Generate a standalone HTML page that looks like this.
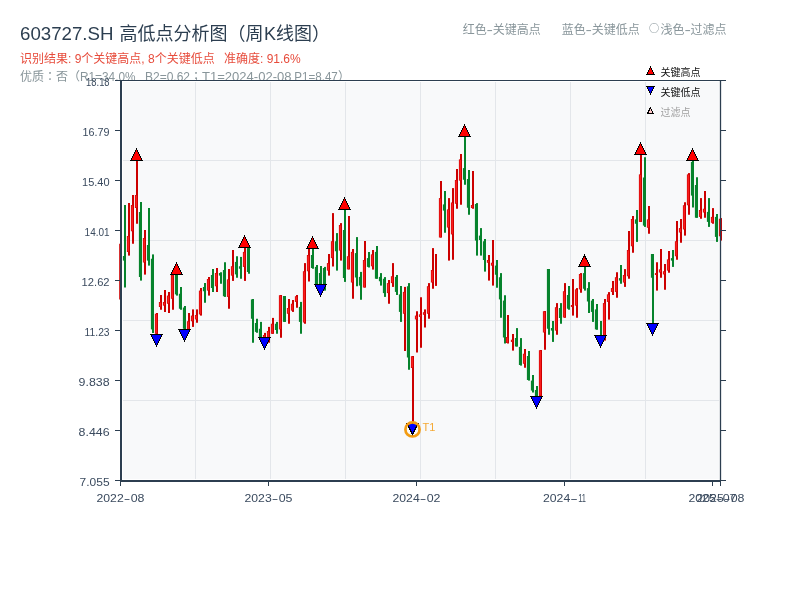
<!DOCTYPE html>
<html lang="zh-CN"><head><meta charset="utf-8"><title>603727.SH 高低点分析图</title>
<style>html,body{margin:0;padding:0;background:#fff;}body{width:800px;height:600px;overflow:hidden;}svg{display:block;will-change:transform;}text{font-family:"Liberation Sans", "Noto Sans CJK SC", sans-serif;}</style></head><body>
<svg width="800" height="600" viewBox="0 0 800 600">
<rect width="800" height="600" fill="#fff"/>
<g fill="#2c3e50" font-size="18">
<text x="20" y="40" textLength="93.5" lengthAdjust="spacingAndGlyphs">603727.SH</text>
<text x="119.4" y="40">高低点分析图（周</text>
<text x="264" y="40">K</text>
<text x="276" y="40">线图）</text>
</g>
<g font-size="12" fill="#e74c3c">
<text x="20" y="63">识别结果: 9个关键高点, 8个关键低点</text>
<text x="224" y="63">准确度: 91.6%</text>
</g>
<g font-size="12" fill="#88959a">
<text x="20" y="81">优质</text>
<text x="44" y="81" style="font-family:'Liberation Sans','Noto Sans CJK JP',sans-serif">：</text>
<text x="56" y="81">否（</text>
<text x="80" y="81" textLength="55.5" lengthAdjust="spacingAndGlyphs">R1=34.0%</text>
<text x="145" y="81">B2=0.62</text>
<text x="190" y="81" style="font-family:'Liberation Sans','Noto Sans CJK JP',sans-serif">；</text>
<text x="202" y="81" textLength="89.5" lengthAdjust="spacingAndGlyphs">T1=2024-02-08</text>
<text x="294.3" y="81" textLength="43.5" lengthAdjust="spacingAndGlyphs">P1=8.47</text>
<text x="338" y="81">）</text>
</g>
<g font-size="12" fill="#88959a">
<text x="462.7" y="33.6">红色</text>
<text x="486.5" y="33.6" textLength="6.4" lengthAdjust="spacingAndGlyphs">-</text>
<text x="492.7" y="33.6">关键高点</text>
<text x="561.7" y="33.6">蓝色</text>
<text x="585.5" y="33.6" textLength="6.4" lengthAdjust="spacingAndGlyphs">-</text>
<text x="591.7" y="33.6">关键低点</text>
<text x="649" y="32.3" font-size="10.2" style="font-family:'Noto Sans CJK SC',sans-serif">○</text>
<text x="660.6" y="33.6">浅色</text>
<text x="684.4" y="33.6" textLength="6.4" lengthAdjust="spacingAndGlyphs">-</text>
<text x="690.6" y="33.6">过滤点</text>
</g>
<rect x="120" y="80" width="601" height="401" fill="#fff"/>
<rect x="123" y="82" width="596" height="397" fill="#f8f9fa"/>
<g stroke="#e3e6ea" stroke-width="1" shape-rendering="crispEdges">
<line x1="195.5" y1="82" x2="195.5" y2="479"/>
<line x1="270.5" y1="82" x2="270.5" y2="479"/>
<line x1="345.5" y1="82" x2="345.5" y2="479"/>
<line x1="420.5" y1="82" x2="420.5" y2="479"/>
<line x1="495.5" y1="82" x2="495.5" y2="479"/>
<line x1="570.5" y1="82" x2="570.5" y2="479"/>
<line x1="645.5" y1="82" x2="645.5" y2="479"/>
<line x1="123" y1="160.5" x2="719" y2="160.5"/>
<line x1="123" y1="240.5" x2="719" y2="240.5"/>
<line x1="123" y1="320.5" x2="719" y2="320.5"/>
<line x1="123" y1="400.5" x2="719" y2="400.5"/>
</g>
<g id="candles">
<rect x="119.2" y="243.75" width="2" height="55.75" fill="#cc0000"/>
<rect x="124" y="205" width="2" height="82.5" fill="#06832c"/>
<rect x="122.9" y="256" width="2.6" height="4.6" fill="#06832c"/>
<rect x="128" y="203" width="2" height="52.6" fill="#cc0000"/>
<rect x="126.9" y="236" width="2.6" height="16" fill="#cc0000"/>
<rect x="127.5" y="236.5" width="1.4" height="15" fill="#ff2020"/>
<rect x="132" y="195" width="2" height="48.75" fill="#cc0000"/>
<rect x="130.9" y="205" width="2.6" height="26.25" fill="#cc0000"/>
<rect x="131.5" y="205.5" width="1.4" height="25.25" fill="#ff2020"/>
<rect x="136" y="160.5" width="2" height="63.25" fill="#cc0000"/>
<rect x="134.9" y="195" width="2.6" height="13" fill="#cc0000"/>
<rect x="135.5" y="195.5" width="1.4" height="12" fill="#ff2020"/>
<rect x="140" y="202" width="2" height="78.6" fill="#06832c"/>
<rect x="138.9" y="212" width="2.6" height="65" fill="#06832c"/>
<rect x="144" y="230" width="2" height="44.6" fill="#cc0000"/>
<rect x="142.9" y="238" width="2.6" height="24.5" fill="#cc0000"/>
<rect x="143.5" y="238.5" width="1.4" height="23.5" fill="#ff2020"/>
<rect x="148" y="208" width="2" height="57.6" fill="#06832c"/>
<rect x="146.9" y="245" width="2.6" height="15.6" fill="#06832c"/>
<rect x="152" y="254.4" width="2" height="78.6" fill="#06832c"/>
<rect x="150.9" y="258.75" width="2.6" height="70.65" fill="#06832c"/>
<rect x="156" y="313" width="2" height="21.4" fill="#cc0000"/>
<rect x="154.9" y="313.75" width="2.6" height="20" fill="#cc0000"/>
<rect x="155.5" y="314.25" width="1.4" height="19" fill="#ff2020"/>
<rect x="160" y="295" width="2" height="14.75" fill="#cc0000"/>
<rect x="158.9" y="302" width="2.6" height="5" fill="#cc0000"/>
<rect x="159.5" y="302.5" width="1.4" height="4" fill="#ff2020"/>
<rect x="164" y="290" width="2" height="22" fill="#cc0000"/>
<rect x="162.9" y="302" width="2.6" height="3.6" fill="#cc0000"/>
<rect x="163.5" y="302.5" width="1.4" height="2.6" fill="#ff2020"/>
<rect x="168" y="292" width="2" height="21" fill="#cc0000"/>
<rect x="166.9" y="295.6" width="2.6" height="8.15" fill="#cc0000"/>
<rect x="167.5" y="296.1" width="1.4" height="7.15" fill="#ff2020"/>
<rect x="172" y="274.5" width="2" height="35.25" fill="#cc0000"/>
<rect x="170.9" y="275" width="2.6" height="23.75" fill="#cc0000"/>
<rect x="171.5" y="275.5" width="1.4" height="22.75" fill="#ff2020"/>
<rect x="176" y="275" width="2" height="20.6" fill="#06832c"/>
<rect x="174.9" y="275" width="2.6" height="19.4" fill="#06832c"/>
<rect x="180" y="287" width="2" height="22.75" fill="#06832c"/>
<rect x="178.9" y="293.75" width="2.6" height="15" fill="#06832c"/>
<rect x="184" y="306" width="2" height="23.4" fill="#06832c"/>
<rect x="182.9" y="307.5" width="2.6" height="21.25" fill="#06832c"/>
<rect x="188" y="313" width="2" height="16.4" fill="#cc0000"/>
<rect x="186.9" y="321.25" width="2.6" height="8.15" fill="#cc0000"/>
<rect x="187.5" y="321.75" width="1.4" height="7.15" fill="#ff2020"/>
<rect x="192" y="309.4" width="2" height="17.5" fill="#cc0000"/>
<rect x="190.9" y="315.6" width="2.6" height="5.65" fill="#cc0000"/>
<rect x="191.5" y="316.1" width="1.4" height="4.65" fill="#ff2020"/>
<rect x="196" y="309.4" width="2" height="13.35" fill="#cc0000"/>
<rect x="194.9" y="315" width="2.6" height="4.4" fill="#cc0000"/>
<rect x="195.5" y="315.5" width="1.4" height="3.4" fill="#ff2020"/>
<rect x="200" y="288" width="2" height="27.6" fill="#cc0000"/>
<rect x="198.9" y="290.6" width="2.6" height="23.8" fill="#cc0000"/>
<rect x="199.5" y="291.1" width="1.4" height="22.8" fill="#ff2020"/>
<rect x="204" y="283" width="2" height="19.75" fill="#06832c"/>
<rect x="202.9" y="287" width="2.6" height="4.25" fill="#06832c"/>
<rect x="208" y="277" width="2" height="18.6" fill="#cc0000"/>
<rect x="206.9" y="279" width="2.6" height="11.6" fill="#cc0000"/>
<rect x="207.5" y="279.5" width="1.4" height="10.6" fill="#ff2020"/>
<rect x="212" y="269" width="2" height="23" fill="#06832c"/>
<rect x="210.9" y="275" width="2.6" height="13" fill="#06832c"/>
<rect x="216" y="268" width="2" height="24" fill="#cc0000"/>
<rect x="214.9" y="273" width="2.6" height="13.25" fill="#cc0000"/>
<rect x="215.5" y="273.5" width="1.4" height="12.25" fill="#ff2020"/>
<rect x="220" y="272.25" width="2" height="11.5" fill="#06832c"/>
<rect x="218.9" y="273" width="2.6" height="2.6" fill="#06832c"/>
<rect x="224" y="262.25" width="2" height="34.65" fill="#06832c"/>
<rect x="222.9" y="270" width="2.6" height="26.25" fill="#06832c"/>
<rect x="228" y="269" width="2" height="39.75" fill="#cc0000"/>
<rect x="226.9" y="279.4" width="2.6" height="17.5" fill="#cc0000"/>
<rect x="227.5" y="279.9" width="1.4" height="16.5" fill="#ff2020"/>
<rect x="232" y="250" width="2" height="30.9" fill="#cc0000"/>
<rect x="230.9" y="266.25" width="2.6" height="9.35" fill="#cc0000"/>
<rect x="231.5" y="266.75" width="1.4" height="8.35" fill="#ff2020"/>
<rect x="236" y="256.25" width="2" height="21.5" fill="#06832c"/>
<rect x="234.9" y="261.9" width="2.6" height="12.5" fill="#06832c"/>
<rect x="240" y="256.9" width="2" height="21.85" fill="#06832c"/>
<rect x="238.9" y="266.25" width="2.6" height="2.5" fill="#06832c"/>
<rect x="244" y="247.5" width="2" height="33.4" fill="#cc0000"/>
<rect x="242.9" y="251.9" width="2.6" height="15" fill="#cc0000"/>
<rect x="243.5" y="252.4" width="1.4" height="14" fill="#ff2020"/>
<rect x="248" y="248.1" width="2" height="25.65" fill="#06832c"/>
<rect x="246.9" y="248.1" width="2.6" height="23.9" fill="#06832c"/>
<rect x="252" y="299" width="2" height="43.75" fill="#06832c"/>
<rect x="250.9" y="299.4" width="2.6" height="19.35" fill="#06832c"/>
<rect x="256" y="318.75" width="2" height="14" fill="#06832c"/>
<rect x="254.9" y="323" width="2.6" height="8.9" fill="#06832c"/>
<rect x="260" y="321.9" width="2" height="15.35" fill="#06832c"/>
<rect x="258.9" y="328.75" width="2.6" height="8.5" fill="#06832c"/>
<rect x="264" y="332.9" width="2" height="5.1" fill="#cc0000"/>
<rect x="262.9" y="335" width="2.6" height="3" fill="#cc0000"/>
<rect x="263.5" y="335.5" width="1.4" height="2" fill="#ff2020"/>
<rect x="268" y="326.9" width="2" height="15.85" fill="#cc0000"/>
<rect x="266.9" y="331" width="2.6" height="10.5" fill="#cc0000"/>
<rect x="267.5" y="331.5" width="1.4" height="9.5" fill="#ff2020"/>
<rect x="272" y="317.9" width="2" height="15.85" fill="#cc0000"/>
<rect x="270.9" y="323.75" width="2.6" height="10" fill="#cc0000"/>
<rect x="271.5" y="324.25" width="1.4" height="9" fill="#ff2020"/>
<rect x="276" y="321.9" width="2" height="11.85" fill="#06832c"/>
<rect x="274.9" y="323.75" width="2.6" height="6.25" fill="#06832c"/>
<rect x="280" y="295" width="2" height="42.75" fill="#cc0000"/>
<rect x="278.9" y="295.25" width="2.6" height="34.15" fill="#cc0000"/>
<rect x="279.5" y="295.75" width="1.4" height="33.15" fill="#ff2020"/>
<rect x="284" y="296" width="2" height="25.9" fill="#06832c"/>
<rect x="282.9" y="296" width="2.6" height="25.9" fill="#06832c"/>
<rect x="288" y="299" width="2" height="24.75" fill="#cc0000"/>
<rect x="286.9" y="308" width="2.6" height="5.75" fill="#cc0000"/>
<rect x="287.5" y="308.5" width="1.4" height="4.75" fill="#ff2020"/>
<rect x="292" y="300" width="2" height="11.9" fill="#cc0000"/>
<rect x="290.9" y="303.75" width="2.6" height="6.85" fill="#cc0000"/>
<rect x="291.5" y="304.25" width="1.4" height="5.85" fill="#ff2020"/>
<rect x="296" y="295" width="2" height="12.75" fill="#cc0000"/>
<rect x="294.9" y="296.25" width="2.6" height="5.65" fill="#cc0000"/>
<rect x="295.5" y="296.75" width="1.4" height="4.65" fill="#ff2020"/>
<rect x="300" y="301.9" width="2" height="31.85" fill="#06832c"/>
<rect x="298.9" y="306.9" width="2.6" height="15" fill="#06832c"/>
<rect x="304" y="263.1" width="2" height="60.65" fill="#cc0000"/>
<rect x="302.9" y="271.25" width="2.6" height="51.25" fill="#cc0000"/>
<rect x="303.5" y="271.75" width="1.4" height="50.25" fill="#ff2020"/>
<rect x="308" y="248.5" width="2" height="33" fill="#cc0000"/>
<rect x="306.9" y="255" width="2.6" height="16.25" fill="#cc0000"/>
<rect x="307.5" y="255.5" width="1.4" height="15.25" fill="#ff2020"/>
<rect x="312" y="248.75" width="2" height="20" fill="#06832c"/>
<rect x="310.9" y="255" width="2.6" height="13" fill="#06832c"/>
<rect x="316" y="265" width="2" height="19.4" fill="#06832c"/>
<rect x="314.9" y="266.9" width="2.6" height="17.5" fill="#06832c"/>
<rect x="320" y="266" width="2" height="18.4" fill="#06832c"/>
<rect x="318.9" y="273" width="2.6" height="11" fill="#06832c"/>
<rect x="324" y="266.9" width="2" height="23.7" fill="#06832c"/>
<rect x="322.9" y="268" width="2.6" height="16" fill="#06832c"/>
<rect x="328" y="254" width="2" height="21.6" fill="#cc0000"/>
<rect x="326.9" y="263.1" width="2.6" height="7.5" fill="#cc0000"/>
<rect x="327.5" y="263.6" width="1.4" height="6.5" fill="#ff2020"/>
<rect x="332" y="213.1" width="2" height="53.4" fill="#cc0000"/>
<rect x="330.9" y="241.25" width="2.6" height="16.85" fill="#cc0000"/>
<rect x="331.5" y="241.75" width="1.4" height="15.85" fill="#ff2020"/>
<rect x="336" y="233.1" width="2" height="37.5" fill="#06832c"/>
<rect x="334.9" y="241.25" width="2.6" height="10" fill="#06832c"/>
<rect x="340" y="223.1" width="2" height="37.5" fill="#cc0000"/>
<rect x="338.9" y="225" width="2.6" height="25.6" fill="#cc0000"/>
<rect x="339.5" y="225.5" width="1.4" height="24.6" fill="#ff2020"/>
<rect x="344" y="209.75" width="2" height="72.15" fill="#06832c"/>
<rect x="342.9" y="230" width="2.6" height="48" fill="#06832c"/>
<rect x="348" y="216" width="2" height="53.4" fill="#cc0000"/>
<rect x="346.9" y="256.25" width="2.6" height="13.15" fill="#cc0000"/>
<rect x="347.5" y="256.75" width="1.4" height="12.15" fill="#ff2020"/>
<rect x="352" y="249" width="2" height="49.75" fill="#cc0000"/>
<rect x="350.9" y="251.9" width="2.6" height="30.6" fill="#cc0000"/>
<rect x="351.5" y="252.4" width="1.4" height="29.6" fill="#ff2020"/>
<rect x="356" y="237.1" width="2" height="49.15" fill="#06832c"/>
<rect x="354.9" y="253.1" width="2.6" height="24.4" fill="#06832c"/>
<rect x="360" y="271.9" width="2" height="27.85" fill="#06832c"/>
<rect x="358.9" y="276.9" width="2.6" height="8.7" fill="#06832c"/>
<rect x="364" y="241" width="2" height="46.5" fill="#cc0000"/>
<rect x="362.9" y="260" width="2.6" height="27.5" fill="#cc0000"/>
<rect x="363.5" y="260.5" width="1.4" height="26.5" fill="#ff2020"/>
<rect x="368" y="252" width="2" height="15.5" fill="#06832c"/>
<rect x="366.9" y="258.1" width="2.6" height="8.8" fill="#06832c"/>
<rect x="372" y="250" width="2" height="19.6" fill="#cc0000"/>
<rect x="370.9" y="254.4" width="2.6" height="11.85" fill="#cc0000"/>
<rect x="371.5" y="254.9" width="1.4" height="10.85" fill="#ff2020"/>
<rect x="376" y="246" width="2" height="32.75" fill="#06832c"/>
<rect x="374.9" y="251.9" width="2.6" height="26.85" fill="#06832c"/>
<rect x="380" y="273.1" width="2" height="12.5" fill="#06832c"/>
<rect x="378.9" y="276.9" width="2.6" height="4.35" fill="#06832c"/>
<rect x="384" y="277.1" width="2" height="19.8" fill="#06832c"/>
<rect x="382.9" y="278.75" width="2.6" height="14.35" fill="#06832c"/>
<rect x="388" y="280" width="2" height="23.75" fill="#cc0000"/>
<rect x="386.9" y="283.1" width="2.6" height="10" fill="#cc0000"/>
<rect x="387.5" y="283.6" width="1.4" height="9" fill="#ff2020"/>
<rect x="392" y="263.1" width="2" height="23.8" fill="#cc0000"/>
<rect x="390.9" y="276.25" width="2.6" height="6.85" fill="#cc0000"/>
<rect x="391.5" y="276.75" width="1.4" height="5.85" fill="#ff2020"/>
<rect x="396" y="275" width="2" height="20" fill="#06832c"/>
<rect x="394.9" y="276.9" width="2.6" height="15" fill="#06832c"/>
<rect x="400" y="286" width="2" height="35.9" fill="#06832c"/>
<rect x="398.9" y="294.4" width="2.6" height="17.5" fill="#06832c"/>
<rect x="404" y="286.9" width="2" height="64.1" fill="#cc0000"/>
<rect x="402.9" y="291.9" width="2.6" height="21.85" fill="#cc0000"/>
<rect x="403.5" y="292.4" width="1.4" height="20.85" fill="#ff2020"/>
<rect x="408" y="283.1" width="2" height="86.65" fill="#06832c"/>
<rect x="406.9" y="286.25" width="2.6" height="71.25" fill="#06832c"/>
<rect x="412" y="356" width="2" height="67" fill="#cc0000"/>
<rect x="410.9" y="356.25" width="2.6" height="11.75" fill="#cc0000"/>
<rect x="411.5" y="356.75" width="1.4" height="10.75" fill="#ff2020"/>
<rect x="416" y="311.25" width="2" height="41.25" fill="#cc0000"/>
<rect x="414.9" y="315.6" width="2.6" height="3.8" fill="#cc0000"/>
<rect x="415.5" y="316.1" width="1.4" height="2.8" fill="#ff2020"/>
<rect x="420" y="297.25" width="2" height="50.5" fill="#cc0000"/>
<rect x="418.9" y="314.4" width="2.6" height="2.5" fill="#cc0000"/>
<rect x="419.5" y="314.9" width="1.4" height="1.5" fill="#ff2020"/>
<rect x="424" y="309.4" width="2" height="18.1" fill="#cc0000"/>
<rect x="422.9" y="312.25" width="2.6" height="2.5" fill="#cc0000"/>
<rect x="423.5" y="312.75" width="1.4" height="1.5" fill="#ff2020"/>
<rect x="428" y="283.1" width="2" height="35.65" fill="#cc0000"/>
<rect x="426.9" y="286.25" width="2.6" height="27.5" fill="#cc0000"/>
<rect x="427.5" y="286.75" width="1.4" height="26.5" fill="#ff2020"/>
<rect x="432" y="248.1" width="2" height="40.65" fill="#cc0000"/>
<rect x="430.9" y="270" width="2.6" height="12.5" fill="#cc0000"/>
<rect x="431.5" y="270.5" width="1.4" height="11.5" fill="#ff2020"/>
<rect x="435" y="254" width="2" height="31.9" fill="#cc0000"/>
<rect x="440" y="181" width="2" height="56.5" fill="#cc0000"/>
<rect x="438.9" y="198.1" width="2.6" height="39.4" fill="#cc0000"/>
<rect x="439.5" y="198.6" width="1.4" height="38.4" fill="#ff2020"/>
<rect x="444" y="191" width="2" height="41.75" fill="#06832c"/>
<rect x="442.9" y="204.4" width="2.6" height="6.2" fill="#06832c"/>
<rect x="448" y="198.1" width="2" height="62.5" fill="#cc0000"/>
<rect x="446.9" y="209.4" width="2.6" height="18.1" fill="#cc0000"/>
<rect x="447.5" y="209.9" width="1.4" height="17.1" fill="#ff2020"/>
<rect x="452" y="188.1" width="2" height="71.65" fill="#cc0000"/>
<rect x="450.9" y="202.5" width="2.6" height="31.9" fill="#cc0000"/>
<rect x="451.5" y="203" width="1.4" height="30.9" fill="#ff2020"/>
<rect x="456" y="169" width="2" height="39.75" fill="#cc0000"/>
<rect x="454.9" y="180" width="2.6" height="23.75" fill="#cc0000"/>
<rect x="455.5" y="180.5" width="1.4" height="22.75" fill="#ff2020"/>
<rect x="460" y="154" width="2" height="50.75" fill="#cc0000"/>
<rect x="458.9" y="159.4" width="2.6" height="21.2" fill="#cc0000"/>
<rect x="459.5" y="159.9" width="1.4" height="20.2" fill="#ff2020"/>
<rect x="464" y="136.5" width="2" height="48.25" fill="#06832c"/>
<rect x="462.9" y="168.1" width="2.6" height="11.65" fill="#06832c"/>
<rect x="468" y="170" width="2" height="44.75" fill="#06832c"/>
<rect x="466.9" y="179" width="2.6" height="28.75" fill="#06832c"/>
<rect x="472" y="171" width="2" height="37.75" fill="#cc0000"/>
<rect x="470.9" y="205" width="2.6" height="3" fill="#cc0000"/>
<rect x="471.5" y="205.5" width="1.4" height="2" fill="#ff2020"/>
<rect x="476" y="203.1" width="2" height="52.5" fill="#06832c"/>
<rect x="474.9" y="204" width="2.6" height="36.6" fill="#06832c"/>
<rect x="480" y="228.1" width="2" height="27.5" fill="#06832c"/>
<rect x="478.9" y="235.6" width="2.6" height="4.4" fill="#06832c"/>
<rect x="484" y="239" width="2" height="32.6" fill="#06832c"/>
<rect x="482.9" y="241.25" width="2.6" height="18.75" fill="#06832c"/>
<rect x="488" y="255" width="2" height="25.6" fill="#cc0000"/>
<rect x="486.9" y="260" width="2.6" height="2.75" fill="#cc0000"/>
<rect x="487.5" y="260.5" width="1.4" height="1.75" fill="#ff2020"/>
<rect x="492" y="240" width="2" height="45.6" fill="#cc0000"/>
<rect x="490.9" y="262.75" width="2.6" height="2.85" fill="#cc0000"/>
<rect x="491.5" y="263.25" width="1.4" height="1.85" fill="#ff2020"/>
<rect x="496" y="260" width="2" height="27.75" fill="#06832c"/>
<rect x="494.9" y="265.6" width="2.6" height="9.15" fill="#06832c"/>
<rect x="500" y="273.1" width="2" height="44.65" fill="#06832c"/>
<rect x="498.9" y="277.25" width="2.6" height="22.15" fill="#06832c"/>
<rect x="504" y="295.25" width="2" height="48.25" fill="#06832c"/>
<rect x="502.9" y="300.6" width="2.6" height="36.9" fill="#06832c"/>
<rect x="507" y="315" width="2" height="28.5" fill="#cc0000"/>
<rect x="505.9" y="337" width="2.6" height="6" fill="#cc0000"/>
<rect x="506.5" y="337.5" width="1.4" height="5" fill="#ff2020"/>
<rect x="512" y="334" width="2" height="16.6" fill="#cc0000"/>
<rect x="510.9" y="339.75" width="2.6" height="2.15" fill="#cc0000"/>
<rect x="511.5" y="340.25" width="1.4" height="1.15" fill="#ff2020"/>
<rect x="516" y="328.1" width="2" height="18.4" fill="#06832c"/>
<rect x="514.9" y="338" width="2.6" height="8.5" fill="#06832c"/>
<rect x="520" y="338.1" width="2" height="27.5" fill="#06832c"/>
<rect x="518.9" y="346.9" width="2.6" height="18.1" fill="#06832c"/>
<rect x="524" y="349" width="2" height="18.75" fill="#cc0000"/>
<rect x="522.9" y="353.75" width="2.6" height="10" fill="#cc0000"/>
<rect x="523.5" y="354.25" width="1.4" height="9" fill="#ff2020"/>
<rect x="528" y="351" width="2" height="29.6" fill="#06832c"/>
<rect x="526.9" y="356" width="2.6" height="24" fill="#06832c"/>
<rect x="532" y="375" width="2" height="17.5" fill="#06832c"/>
<rect x="530.9" y="380.6" width="2.6" height="10" fill="#06832c"/>
<rect x="536" y="386" width="2" height="10.5" fill="#06832c"/>
<rect x="534.9" y="390" width="2.6" height="6.5" fill="#06832c"/>
<rect x="540" y="350" width="2" height="46.5" fill="#cc0000"/>
<rect x="538.9" y="350.25" width="2.6" height="45.75" fill="#cc0000"/>
<rect x="539.5" y="350.75" width="1.4" height="44.75" fill="#ff2020"/>
<rect x="544" y="311" width="2" height="38.75" fill="#cc0000"/>
<rect x="542.9" y="311.25" width="2.6" height="21.25" fill="#cc0000"/>
<rect x="543.5" y="311.75" width="1.4" height="20.25" fill="#ff2020"/>
<rect x="548" y="269" width="2" height="65.75" fill="#06832c"/>
<rect x="546.9" y="269" width="2.6" height="59.75" fill="#06832c"/>
<rect x="552" y="321" width="2" height="20.9" fill="#06832c"/>
<rect x="550.9" y="328" width="2.6" height="2.6" fill="#06832c"/>
<rect x="556" y="303.1" width="2" height="31.65" fill="#cc0000"/>
<rect x="554.9" y="307.25" width="2.6" height="23.35" fill="#cc0000"/>
<rect x="555.5" y="307.75" width="1.4" height="22.35" fill="#ff2020"/>
<rect x="560" y="303.1" width="2" height="20.65" fill="#06832c"/>
<rect x="558.9" y="308" width="2.6" height="10" fill="#06832c"/>
<rect x="564" y="283.1" width="2" height="34.65" fill="#cc0000"/>
<rect x="562.9" y="291.25" width="2.6" height="26.25" fill="#cc0000"/>
<rect x="563.5" y="291.75" width="1.4" height="25.25" fill="#ff2020"/>
<rect x="568" y="286" width="2" height="23.75" fill="#06832c"/>
<rect x="566.9" y="295" width="2.6" height="13.75" fill="#06832c"/>
<rect x="572" y="279" width="2" height="36.6" fill="#cc0000"/>
<rect x="570.9" y="305" width="2.6" height="1.9" fill="#cc0000"/>
<rect x="571.5" y="305.5" width="1.4" height="0.9" fill="#ff2020"/>
<rect x="576" y="288.1" width="2" height="29.65" fill="#cc0000"/>
<rect x="574.9" y="289.4" width="2.6" height="16.2" fill="#cc0000"/>
<rect x="575.5" y="289.9" width="1.4" height="15.2" fill="#ff2020"/>
<rect x="580" y="273.1" width="2" height="19.65" fill="#cc0000"/>
<rect x="578.9" y="274" width="2.6" height="15.4" fill="#cc0000"/>
<rect x="579.5" y="274.5" width="1.4" height="14.4" fill="#ff2020"/>
<rect x="584" y="266.9" width="2" height="23.7" fill="#06832c"/>
<rect x="582.9" y="273.1" width="2.6" height="15.65" fill="#06832c"/>
<rect x="588" y="282.1" width="2" height="30.9" fill="#06832c"/>
<rect x="586.9" y="288.1" width="2.6" height="13.4" fill="#06832c"/>
<rect x="592" y="299" width="2" height="22.9" fill="#06832c"/>
<rect x="590.9" y="300.6" width="2.6" height="11.3" fill="#06832c"/>
<rect x="596" y="304" width="2" height="25.75" fill="#06832c"/>
<rect x="594.9" y="309.4" width="2.6" height="20" fill="#06832c"/>
<rect x="600" y="321" width="2" height="14.25" fill="#06832c"/>
<rect x="604" y="299" width="2" height="41.6" fill="#cc0000"/>
<rect x="602.9" y="303.1" width="2.6" height="33.15" fill="#cc0000"/>
<rect x="603.5" y="303.6" width="1.4" height="32.15" fill="#ff2020"/>
<rect x="608" y="292.1" width="2" height="27.5" fill="#cc0000"/>
<rect x="606.9" y="294.4" width="2.6" height="7.5" fill="#cc0000"/>
<rect x="607.5" y="294.9" width="1.4" height="6.5" fill="#ff2020"/>
<rect x="612" y="281" width="2" height="14" fill="#cc0000"/>
<rect x="610.9" y="288.1" width="2.6" height="3.8" fill="#cc0000"/>
<rect x="611.5" y="288.6" width="1.4" height="2.8" fill="#ff2020"/>
<rect x="616" y="272.25" width="2" height="25.5" fill="#cc0000"/>
<rect x="614.9" y="277.25" width="2.6" height="14.65" fill="#cc0000"/>
<rect x="615.5" y="277.75" width="1.4" height="13.65" fill="#ff2020"/>
<rect x="620" y="265" width="2" height="18.75" fill="#06832c"/>
<rect x="618.9" y="278.1" width="2.6" height="2.5" fill="#06832c"/>
<rect x="624" y="269.1" width="2" height="17.8" fill="#cc0000"/>
<rect x="622.9" y="275" width="2.6" height="7.5" fill="#cc0000"/>
<rect x="623.5" y="275.5" width="1.4" height="6.5" fill="#ff2020"/>
<rect x="628" y="231" width="2" height="47.75" fill="#cc0000"/>
<rect x="626.9" y="250" width="2.6" height="26.25" fill="#cc0000"/>
<rect x="627.5" y="250.5" width="1.4" height="25.25" fill="#ff2020"/>
<rect x="632" y="216" width="2" height="36.75" fill="#cc0000"/>
<rect x="630.9" y="219" width="2.6" height="27.25" fill="#cc0000"/>
<rect x="631.5" y="219.5" width="1.4" height="26.25" fill="#ff2020"/>
<rect x="636" y="210" width="2" height="31.9" fill="#06832c"/>
<rect x="634.9" y="219.4" width="2.6" height="4.35" fill="#06832c"/>
<rect x="640" y="154.6" width="2" height="67.3" fill="#cc0000"/>
<rect x="638.9" y="174.4" width="2.6" height="47.5" fill="#cc0000"/>
<rect x="639.5" y="174.9" width="1.4" height="46.5" fill="#ff2020"/>
<rect x="644" y="157.25" width="2" height="69.65" fill="#06832c"/>
<rect x="642.9" y="177.5" width="2.6" height="48.1" fill="#06832c"/>
<rect x="648" y="206" width="2" height="27.75" fill="#cc0000"/>
<rect x="646.9" y="219.4" width="2.6" height="8.35" fill="#cc0000"/>
<rect x="647.5" y="219.9" width="1.4" height="7.35" fill="#ff2020"/>
<rect x="652" y="254" width="2" height="69.5" fill="#06832c"/>
<rect x="650.9" y="254" width="2.6" height="23.75" fill="#06832c"/>
<rect x="656" y="262.25" width="2" height="28.35" fill="#cc0000"/>
<rect x="654.9" y="273.1" width="2.6" height="1.9" fill="#cc0000"/>
<rect x="655.5" y="273.6" width="1.4" height="0.9" fill="#ff2020"/>
<rect x="660" y="249" width="2" height="28.75" fill="#cc0000"/>
<rect x="658.9" y="269.4" width="2.6" height="3.1" fill="#cc0000"/>
<rect x="659.5" y="269.9" width="1.4" height="2.1" fill="#ff2020"/>
<rect x="664" y="264" width="2" height="25.75" fill="#cc0000"/>
<rect x="662.9" y="271.25" width="2.6" height="3.15" fill="#cc0000"/>
<rect x="663.5" y="271.75" width="1.4" height="2.15" fill="#ff2020"/>
<rect x="668" y="251" width="2" height="21.75" fill="#cc0000"/>
<rect x="666.9" y="259.4" width="2.6" height="11.2" fill="#cc0000"/>
<rect x="667.5" y="259.9" width="1.4" height="10.2" fill="#ff2020"/>
<rect x="672" y="250" width="2" height="16.9" fill="#06832c"/>
<rect x="670.9" y="258.1" width="2.6" height="2.5" fill="#06832c"/>
<rect x="676" y="221" width="2" height="38.75" fill="#cc0000"/>
<rect x="674.9" y="241.25" width="2.6" height="15" fill="#cc0000"/>
<rect x="675.5" y="241.75" width="1.4" height="14" fill="#ff2020"/>
<rect x="680" y="219" width="2" height="23.75" fill="#cc0000"/>
<rect x="678.9" y="228.1" width="2.6" height="4.4" fill="#cc0000"/>
<rect x="679.5" y="228.6" width="1.4" height="3.4" fill="#ff2020"/>
<rect x="684" y="202.25" width="2" height="33.35" fill="#cc0000"/>
<rect x="682.9" y="205.25" width="2.6" height="24.15" fill="#cc0000"/>
<rect x="683.5" y="205.75" width="1.4" height="23.15" fill="#ff2020"/>
<rect x="688" y="173.1" width="2" height="41.65" fill="#cc0000"/>
<rect x="686.9" y="174.4" width="2.6" height="30.85" fill="#cc0000"/>
<rect x="687.5" y="174.9" width="1.4" height="29.85" fill="#ff2020"/>
<rect x="692" y="160.6" width="2" height="46.9" fill="#06832c"/>
<rect x="690.9" y="161.9" width="2.6" height="33.7" fill="#06832c"/>
<rect x="696" y="177.25" width="2" height="40.5" fill="#06832c"/>
<rect x="694.9" y="185" width="2.6" height="32.75" fill="#06832c"/>
<rect x="700" y="198.1" width="2" height="20.65" fill="#cc0000"/>
<rect x="698.9" y="210" width="2.6" height="6.9" fill="#cc0000"/>
<rect x="699.5" y="210.5" width="1.4" height="5.9" fill="#ff2020"/>
<rect x="704" y="191" width="2" height="26.75" fill="#cc0000"/>
<rect x="702.9" y="208.75" width="2.6" height="3.75" fill="#cc0000"/>
<rect x="703.5" y="209.25" width="1.4" height="2.75" fill="#ff2020"/>
<rect x="708" y="198.1" width="2" height="28.8" fill="#06832c"/>
<rect x="706.9" y="211.9" width="2.6" height="10" fill="#06832c"/>
<rect x="712" y="208.1" width="2" height="15.65" fill="#cc0000"/>
<rect x="710.9" y="216.9" width="2.6" height="5.85" fill="#cc0000"/>
<rect x="711.5" y="217.4" width="1.4" height="4.85" fill="#ff2020"/>
<rect x="716" y="214" width="2" height="27.9" fill="#06832c"/>
<rect x="714.9" y="216.9" width="2.6" height="20" fill="#06832c"/>
<rect x="720" y="218.1" width="2" height="22.5" fill="#cc0000"/>
<rect x="718.9" y="218.75" width="2.6" height="17.5" fill="#cc0000"/>
<rect x="719.5" y="219.25" width="1.4" height="16.5" fill="#ff2020"/>
</g>
<g stroke="#2c3e50" fill="none">
<line x1="121" y1="80" x2="121" y2="481" stroke-width="2"/>
<line x1="120" y1="481" x2="721" y2="481" stroke-width="2"/>
<line x1="120" y1="80.5" x2="726" y2="80.5" stroke-width="1"/>
<line x1="720.5" y1="80" x2="720.5" y2="481" stroke-width="1.3"/>
<line x1="115" y1="80.5" x2="120" y2="80.5" stroke-width="1"/>
<line x1="720" y1="80.5" x2="726" y2="80.5" stroke-width="1"/>
<line x1="115" y1="130.5" x2="120" y2="130.5" stroke-width="1"/>
<line x1="720" y1="130.5" x2="726" y2="130.5" stroke-width="1"/>
<line x1="115" y1="180.5" x2="120" y2="180.5" stroke-width="1"/>
<line x1="720" y1="180.5" x2="726" y2="180.5" stroke-width="1"/>
<line x1="115" y1="230.5" x2="120" y2="230.5" stroke-width="1"/>
<line x1="720" y1="230.5" x2="726" y2="230.5" stroke-width="1"/>
<line x1="115" y1="280.5" x2="120" y2="280.5" stroke-width="1"/>
<line x1="720" y1="280.5" x2="726" y2="280.5" stroke-width="1"/>
<line x1="115" y1="330.5" x2="120" y2="330.5" stroke-width="1"/>
<line x1="720" y1="330.5" x2="726" y2="330.5" stroke-width="1"/>
<line x1="115" y1="380.5" x2="120" y2="380.5" stroke-width="1"/>
<line x1="720" y1="380.5" x2="726" y2="380.5" stroke-width="1"/>
<line x1="115" y1="430.5" x2="120" y2="430.5" stroke-width="1"/>
<line x1="720" y1="430.5" x2="726" y2="430.5" stroke-width="1"/>
<line x1="115" y1="480.5" x2="120" y2="480.5" stroke-width="1"/>
<line x1="720" y1="480.5" x2="726" y2="480.5" stroke-width="1"/>
<line x1="120.5" y1="481" x2="120.5" y2="486" stroke-width="1"/>
<line x1="268.5" y1="481" x2="268.5" y2="486" stroke-width="1"/>
<line x1="416.5" y1="481" x2="416.5" y2="486" stroke-width="1"/>
<line x1="564.5" y1="481" x2="564.5" y2="486" stroke-width="1"/>
<line x1="712.5" y1="481" x2="712.5" y2="486" stroke-width="1"/>
<line x1="720.5" y1="481" x2="720.5" y2="486" stroke-width="1"/>
</g>
<g font-size="11" fill="#3a4a5e" text-anchor="end">
<text x="109.6" y="85.6" textLength="23.5" lengthAdjust="spacingAndGlyphs">18.18</text>
<text x="109.6" y="135.6" textLength="27" lengthAdjust="spacingAndGlyphs">16.79</text>
<text x="109.6" y="185.6" textLength="27.5" lengthAdjust="spacingAndGlyphs">15.40</text>
<text x="109.6" y="235.6" textLength="25" lengthAdjust="spacingAndGlyphs">14.01</text>
<text x="109.6" y="285.6" textLength="28" lengthAdjust="spacingAndGlyphs">12.62</text>
<text x="109.6" y="335.6" textLength="25" lengthAdjust="spacingAndGlyphs">11.23</text>
<text x="109.6" y="385.6" textLength="31" lengthAdjust="spacingAndGlyphs">9.838</text>
<text x="109.6" y="435.6" textLength="31" lengthAdjust="spacingAndGlyphs">8.446</text>
<text x="109.6" y="485.6" textLength="30" lengthAdjust="spacingAndGlyphs">7.055</text>
</g>
<g font-size="11" fill="#3a4a5e" text-anchor="middle">
<text x="96.5" y="502" text-anchor="start" textLength="27.2" lengthAdjust="spacingAndGlyphs">2022</text>
<text x="123.8" y="502" text-anchor="start" textLength="6.6" lengthAdjust="spacingAndGlyphs">-</text>
<text x="130.7" y="502" text-anchor="start" textLength="13.8" lengthAdjust="spacingAndGlyphs">08</text>
<text x="244.5" y="502" text-anchor="start" textLength="27.2" lengthAdjust="spacingAndGlyphs">2023</text>
<text x="271.8" y="502" text-anchor="start" textLength="6.6" lengthAdjust="spacingAndGlyphs">-</text>
<text x="278.7" y="502" text-anchor="start" textLength="13.8" lengthAdjust="spacingAndGlyphs">05</text>
<text x="392.5" y="502" text-anchor="start" textLength="27.2" lengthAdjust="spacingAndGlyphs">2024</text>
<text x="419.8" y="502" text-anchor="start" textLength="6.6" lengthAdjust="spacingAndGlyphs">-</text>
<text x="426.7" y="502" text-anchor="start" textLength="13.8" lengthAdjust="spacingAndGlyphs">02</text>
<text x="543" y="502" text-anchor="start" textLength="27.2" lengthAdjust="spacingAndGlyphs">2024</text>
<text x="570.3" y="502" text-anchor="start" textLength="7.6" lengthAdjust="spacingAndGlyphs">-</text>
<text x="578.2" y="502" text-anchor="start" textLength="7.8" lengthAdjust="spacingAndGlyphs">11</text>
<text x="688.5" y="502" text-anchor="start" textLength="27.2" lengthAdjust="spacingAndGlyphs">2025</text>
<text x="715.8" y="502" text-anchor="start" textLength="6.6" lengthAdjust="spacingAndGlyphs">-</text>
<text x="722.7" y="502" text-anchor="start" textLength="13.8" lengthAdjust="spacingAndGlyphs">07</text>
<text x="696.5" y="502" text-anchor="start" textLength="27.2" lengthAdjust="spacingAndGlyphs">2025</text>
<text x="723.8" y="502" text-anchor="start" textLength="6.6" lengthAdjust="spacingAndGlyphs">-</text>
<text x="730.7" y="502" text-anchor="start" textLength="13.8" lengthAdjust="spacingAndGlyphs">08</text>
</g>
<g id="markers">
<polygon points="136.5,149 130.7,160.5 142.3,160.5" fill="#ff0000" stroke="#000" stroke-width="1" stroke-linejoin="miter" shape-rendering="crispEdges"/>
<polygon points="176.5,262.9 170.7,274.4 182.3,274.4" fill="#ff0000" stroke="#000" stroke-width="1" stroke-linejoin="miter" shape-rendering="crispEdges"/>
<polygon points="244.5,236 238.7,247.5 250.3,247.5" fill="#ff0000" stroke="#000" stroke-width="1" stroke-linejoin="miter" shape-rendering="crispEdges"/>
<polygon points="312.5,237 306.7,248.5 318.3,248.5" fill="#ff0000" stroke="#000" stroke-width="1" stroke-linejoin="miter" shape-rendering="crispEdges"/>
<polygon points="344.5,198.25 338.7,209.75 350.3,209.75" fill="#ff0000" stroke="#000" stroke-width="1" stroke-linejoin="miter" shape-rendering="crispEdges"/>
<polygon points="464.5,125 458.7,136.5 470.3,136.5" fill="#ff0000" stroke="#000" stroke-width="1" stroke-linejoin="miter" shape-rendering="crispEdges"/>
<polygon points="584.5,255.4 578.7,266.9 590.3,266.9" fill="#ff0000" stroke="#000" stroke-width="1" stroke-linejoin="miter" shape-rendering="crispEdges"/>
<polygon points="640.5,143.1 634.7,154.6 646.3,154.6" fill="#ff0000" stroke="#000" stroke-width="1" stroke-linejoin="miter" shape-rendering="crispEdges"/>
<polygon points="692.5,149.1 686.7,160.6 698.3,160.6" fill="#ff0000" stroke="#000" stroke-width="1" stroke-linejoin="miter" shape-rendering="crispEdges"/>
<polygon points="150.7,334.4 162.3,334.4 156.5,345.9" fill="#0000ff" stroke="#000" stroke-width="1" stroke-linejoin="miter" shape-rendering="crispEdges"/>
<polygon points="178.7,329.4 190.3,329.4 184.5,340.9" fill="#0000ff" stroke="#000" stroke-width="1" stroke-linejoin="miter" shape-rendering="crispEdges"/>
<polygon points="258.7,337.25 270.3,337.25 264.5,348.75" fill="#0000ff" stroke="#000" stroke-width="1" stroke-linejoin="miter" shape-rendering="crispEdges"/>
<polygon points="314.7,284.4 326.3,284.4 320.5,295.9" fill="#0000ff" stroke="#000" stroke-width="1" stroke-linejoin="miter" shape-rendering="crispEdges"/>
<polygon points="406.7,423 418.3,423 412.5,434.5" fill="#0000ff" stroke="#000" stroke-width="1" stroke-linejoin="miter" shape-rendering="crispEdges"/>
<polygon points="530.7,396.5 542.3,396.5 536.5,408" fill="#0000ff" stroke="#000" stroke-width="1" stroke-linejoin="miter" shape-rendering="crispEdges"/>
<polygon points="594.7,335.25 606.3,335.25 600.5,346.75" fill="#0000ff" stroke="#000" stroke-width="1" stroke-linejoin="miter" shape-rendering="crispEdges"/>
<polygon points="646.7,323.5 658.3,323.5 652.5,335" fill="#0000ff" stroke="#000" stroke-width="1" stroke-linejoin="miter" shape-rendering="crispEdges"/>
</g>
<circle cx="412.5" cy="429.4" r="7.1" fill="none" stroke="#f39c12" stroke-width="2.7"/>
<text x="422.6" y="431.3" font-size="11" fill="#f4a935">T1</text>
<polygon points="650.5,67.2 646.8,74.5 654.2,74.5" fill="#ff0000" stroke="#000" stroke-width="1" stroke-linejoin="miter" shape-rendering="crispEdges"/>
<text x="660.5" y="76" font-size="10" fill="#111">关键高点</text>
<polygon points="646.8,86.5 654.2,86.5 650.5,93.8" fill="#0000ff" stroke="#000" stroke-width="1" stroke-linejoin="miter" shape-rendering="crispEdges"/>
<text x="660.5" y="96" font-size="10" fill="#111">关键低点</text>
<polygon points="650.3,107.8 647.7,113.2 652.9,113.2" fill="#ffc8c8" stroke="#000" stroke-width="1" stroke-linejoin="miter" shape-rendering="crispEdges"/>
<text x="660.5" y="115.6" font-size="10" fill="#a0a0a0">过滤点</text>
</svg></body></html>
